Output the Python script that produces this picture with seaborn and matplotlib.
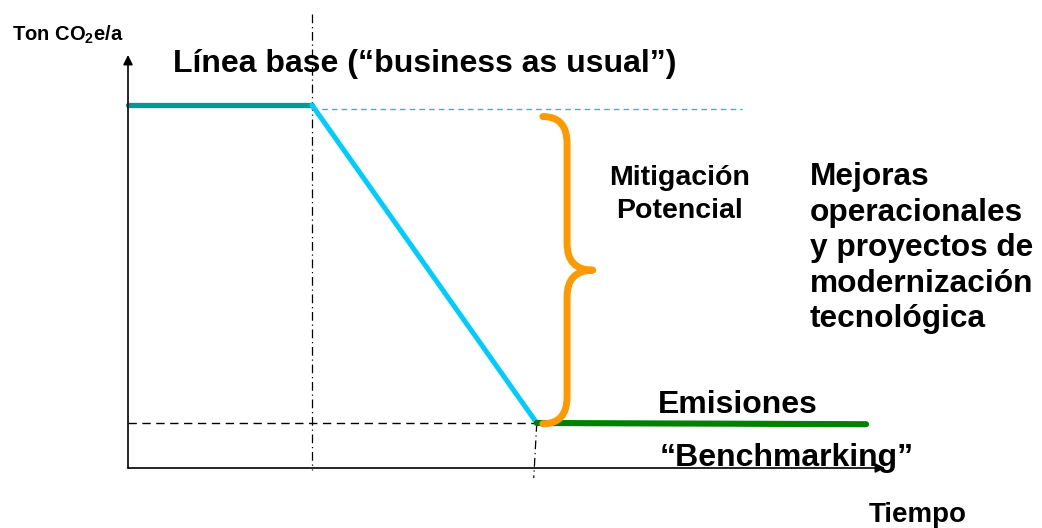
"""
Emission mitigation diagram: baseline vs benchmarking
"""

import pandas as pd
import matplotlib.pyplot as plt
from matplotlib.path import Path
from matplotlib.patches import PathPatch
import seaborn as sns

# Style
sns.set_style("white")
plt.rcParams['font.family'] = ['Liberation Sans', 'DejaVu Sans']
plt.rcParams['font.weight'] = 'bold'
plt.rcParams['text.color'] = 'black'
plt.rcParams['mathtext.fontset'] = 'custom'
plt.rcParams['mathtext.bf'] = 'Liberation Sans:bold'
plt.rcParams['mathtext.rm'] = 'Liberation Sans:bold'
plt.rcParams['mathtext.default'] = 'bf'

W, H = 1042, 528

# Data (time in arbitrary units, emissions in arbitrary units)
t_start = 0.0
t_project = 2.43
t_benchmark = 5.40
t_end = 9.75
t_ref_end = 8.11

baseline_level = 8.79
baseline_ref_level = 8.69
benchmark_level = 1.09
benchmark_end_level = 1.06

axis_len_x = 10.0
axis_len_y = 10.0

# Axis scale: pixels per unit and origin location
px_per_t = 75.7
px_per_e = 41.3
origin_px = (128, 468)


def fig_xy(px, py):
    """Pixel position -> figure fraction."""
    return px / W, 1 - py / H


def draw_brace(ax, x0, xv, xtip, ytop, ybot, r=0.65, color='#FF9900', lw=5):
    ymid = (ytop + ybot) / 2
    verts = [
        (x0, ytop), (xv, ytop), (xv, ytop - r),
        (xv, ymid + r),
        (xv, ymid), (xtip, ymid),
        (xv, ymid), (xv, ymid - r),
        (xv, ybot + r),
        (xv, ybot), (x0, ybot),
    ]
    codes = [Path.MOVETO, Path.CURVE3, Path.CURVE3,
             Path.LINETO,
             Path.CURVE3, Path.CURVE3,
             Path.CURVE3, Path.CURVE3,
             Path.LINETO,
             Path.CURVE3, Path.CURVE3]
    ax.add_patch(PathPatch(Path(verts, codes), facecolor='none',
                           edgecolor=color, lw=lw, capstyle='round',
                           joinstyle='round', zorder=4))


def main():
    fig = plt.figure(figsize=(W / 100, H / 100), dpi=100)
    ax = fig.add_axes([0, 0, 1, 1])

    # Axes arrows
    arrow = dict(arrowstyle='-|>', color='black', lw=1.2, mutation_scale=14,
                 shrinkA=0, shrinkB=0)
    ax.annotate('', xy=(0, axis_len_y), xytext=(0, 0), arrowprops=arrow)
    ax.annotate('', xy=(axis_len_x, 0), xytext=(0, 0), arrowprops=arrow)

    # Reference lines
    ax.plot([t_project, t_project], [11.0, -0.05], color='black', lw=0.9,
            linestyle=(0, (7, 3, 1, 3)), zorder=1)
    ax.plot([t_benchmark, t_benchmark - 0.04], [benchmark_level, -0.24],
            color='black', lw=0.9, linestyle=(0, (7, 3, 1, 3)), zorder=1)
    ax.plot([t_start, t_benchmark], [benchmark_level, benchmark_level],
            color='black', lw=1.0, linestyle=(0, (6, 4)), zorder=1)
    ax.plot([t_project, t_ref_end], [baseline_ref_level, baseline_ref_level],
            color='#33BBBB', lw=1.0, linestyle=(0, (4, 3)), zorder=1)

    # Emission trajectories
    base = pd.DataFrame({'t': [t_start, t_project],
                         'e': [baseline_level, baseline_level]})
    drop = pd.DataFrame({'t': [t_project, t_benchmark],
                         'e': [baseline_level, benchmark_level]})
    bench = pd.DataFrame({'t': [t_benchmark, t_end],
                          'e': [benchmark_level, benchmark_end_level]})
    sns.lineplot(data=base, x='t', y='e', sort=False, color='#009999', lw=3.8, ax=ax)
    sns.lineplot(data=drop, x='t', y='e', sort=False, color='#00CCFF', lw=3.6, ax=ax)
    sns.lineplot(data=bench, x='t', y='e', sort=False, color='#008000', lw=4.4, ax=ax)
    ax.set_xlim(-origin_px[0] / px_per_t, (W - origin_px[0]) / px_per_t)
    ax.set_ylim(-(H - origin_px[1]) / px_per_e, origin_px[1] / px_per_e)
    ax.axis('off')

    # Mitigation brace
    draw_brace(ax, t_benchmark + 0.08, t_benchmark + 0.40, t_benchmark + 0.74,
               baseline_level - 0.28, benchmark_level - 0.02)

    # Labels
    fig.text(*fig_xy(12, 41), r'Ton CO$_2$e/a', fontsize=14.5, fontweight='bold',
             va='baseline', ha='left')
    fig.text(*fig_xy(173, 72), 'Línea base (“business as usual”)', fontsize=23,
             fontweight='bold', va='baseline', ha='left')
    for txt, y in zip(['Mitigación', 'Potencial'], [185, 218]):
        fig.text(*fig_xy(680, y), txt, fontsize=20.5, fontweight='bold',
                 va='baseline', ha='center')
    lines = ['Mejoras', 'operacionales', 'y proyectos de', 'modernización', 'tecnológica']
    for i, txt in enumerate(lines):
        fig.text(*fig_xy(810, 185 + 35.5 * i), txt, fontsize=22.8, fontweight='bold',
                 va='baseline', ha='left')
    fig.text(*fig_xy(658, 413), 'Emisiones', fontsize=23, fontweight='bold',
             va='baseline', ha='left')
    fig.text(*fig_xy(660, 466), '“Benchmarking”', fontsize=23, fontweight='bold',
             va='baseline', ha='left')
    fig.text(*fig_xy(869, 522), 'Tiempo', fontsize=20, fontweight='bold',
             va='baseline', ha='left')

    fig.savefig('out.png', dpi=100)
    plt.close(fig)


if __name__ == "__main__":
    main()
